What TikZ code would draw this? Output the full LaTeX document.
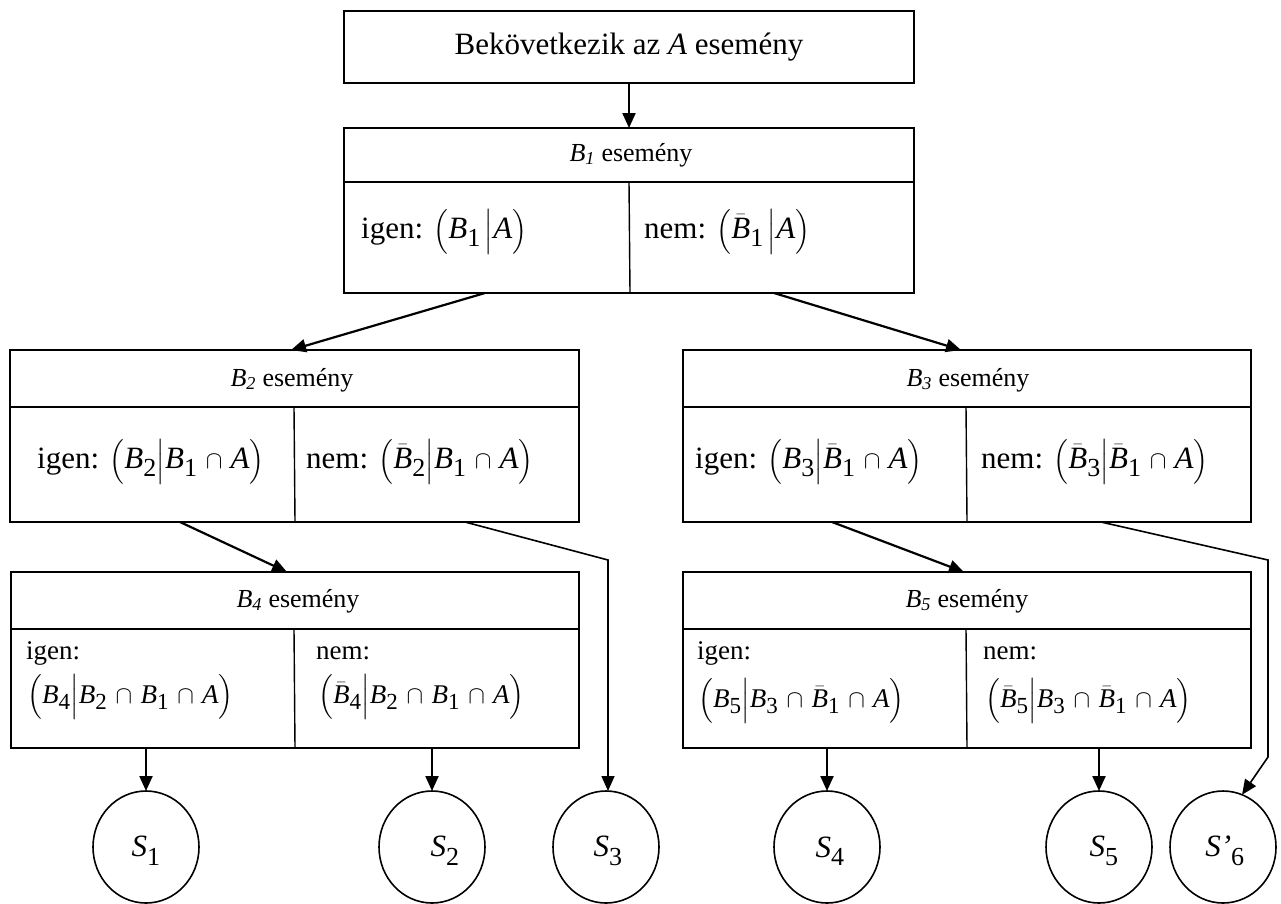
\documentclass[tikz,border=0pt]{standalone}
\usepackage{amsmath}
\usepackage{fontspec}
\setmainfont{Liberation Serif}
\usetikzlibrary{arrows.meta,shapes.geometric}
\newcommand\fTop{\fontsize{31}{36}\selectfont}
\newcommand\fHdr{\fontsize{26}{30}\selectfont}
\newcommand\fRow{\fontsize{31}{36}\selectfont}
\newcommand\fSm{\fontsize{27}{32}\selectfont}
\DeclareMathSizes{31}{31}{26}{20}
\DeclareMathSizes{27}{27}{23}{18}
\medmuskip=6mu plus 2mu minus 2mu
\newcommand\vB{\text{\itshape B}}
\newcommand\vA{\text{\itshape A}}
\newcommand\nB{\bar{\vB}}
\newcommand\sd[1]{_{\text{#1}}}
\tikzset{
  box/.style={draw, line width=1.8pt, rectangle, inner sep=0pt, outer sep=0pt, anchor=north west},
  divl/.style={line width=1.4pt},
  arr/.style={line width=2.2pt, -{Triangle[length=15pt,width=13pt]}},
  conn/.style={line width=1.6pt, -{Triangle[length=15pt,width=13pt]}},
  endst/.style={draw, ellipse, line width=1.6pt, inner sep=0pt, outer sep=0pt, minimum width=106pt, minimum height=112pt},
  hdr/.style={font=\fHdr, inner sep=0pt},
  row/.style={font=\fRow, inner sep=0pt, anchor=west},
  rowsm/.style={font=\fSm, inner sep=0pt},
  slab/.style={font=\fRow, inner sep=0pt}
}
\begin{document}
\begin{tikzpicture}[x=1pt,y=-1pt]
\useasboundingbox[fill=white] (0,0) rectangle (1281,903);
% top box
\node[box, minimum width=570pt, minimum height=72pt] (top) at (344,11) {};
\node[font=\fTop, inner sep=0pt] (toptxt) at (629,47) {Bekövetkezik az \textit{A} esemény};
% B1
\node[box, minimum width=570pt, minimum height=165pt] (b1) at (344,128) {};
\draw[divl] (344,182) -- (914,182);
\draw[divl] (629,182) -- (630,293);
\node[hdr] (b1h) at (631,155) {\textit{B\textsubscript{1}} esemény};
\node[row] (b1i) at (361,232) {igen: $\Bigl(\vB\sd{1}\,\Big|\vA\Bigr)$};
\node[row] (b1n) at (644,232) {nem: $\Bigl(\nB\sd{1}\,\Big|\vA\Bigr)$};
% B2
\node[box, minimum width=569pt, minimum height=172pt] (b2) at (10,350) {};
\draw[divl] (10,407) -- (579,407);
\node[hdr] (b2h) at (292,380) {\textit{B\textsubscript{2}} esemény};
\draw[divl] (294,407) -- (295,522);
\node[row] (b2i) at (37,462) {igen: $\Bigl(\vB\sd{2}\Big|\vB\sd{1}\cap\vA\Bigr)$};
\node[row] (b2n) at (306,462) {nem: $\Bigl(\nB\sd{2}\Big|\vB\sd{1}\cap\vA\Bigr)$};
% B3
\node[box, minimum width=568pt, minimum height=172pt] (b3) at (683,350) {};
\draw[divl] (683,407) -- (1251,407);
\node[hdr] (b3h) at (968,380) {\textit{B\textsubscript{3}} esemény};
\draw[divl] (966,407) -- (967,522);
\node[row] (b3i) at (695,462) {igen: $\Bigl(\vB\sd{3}\Big|\nB\sd{1}\cap\vA\Bigr)$};
\node[row] (b3n) at (981,462) {nem: $\Bigl(\nB\sd{3}\Big|\nB\sd{1}\cap\vA\Bigr)$};
% B4
\node[box, minimum width=568pt, minimum height=176pt] (b4) at (11,572) {};
\draw[divl] (11,629) -- (579,629);
\node[hdr] (b4h) at (298,601) {\textit{B\textsubscript{4}} esemény};
\draw[divl] (294,629) -- (295,748);
\node[rowsm, anchor=base west] (b4il) at (26,659) {igen:};
\node[rowsm, anchor=west] (b4if) at (27,697) {$\Bigl(\vB\sd{4}\Big|\vB\sd{2}\cap\vB\sd{1}\cap\vA\Bigr)$};
\node[rowsm, anchor=base west] (b4nl) at (316,659) {nem:};
\node[rowsm, anchor=west] (b4nf) at (318,697) {$\Bigl(\nB\sd{4}\Big|\vB\sd{2}\cap\vB\sd{1}\cap\vA\Bigr)$};
% B5
\node[box, minimum width=568pt, minimum height=176pt] (b5) at (683,572) {};
\draw[divl] (683,629) -- (1251,629);
\node[hdr] (b5h) at (967,601) {\textit{B\textsubscript{5}} esemény};
\draw[divl] (966,629) -- (967,748);
\node[rowsm, anchor=base west] (b5il) at (697,659) {igen:};
\node[rowsm, anchor=west] (b5if) at (698,701) {$\Bigl(\vB\sd{5}\Big|\vB\sd{3}\cap\nB\sd{1}\cap\vA\Bigr)$};
\node[rowsm, anchor=base west] (b5nl) at (983,659) {nem:};
\node[rowsm, anchor=west] (b5nf) at (985,701) {$\Bigl(\nB\sd{5}\Big|\vB\sd{3}\cap\nB\sd{1}\cap\vA\Bigr)$};
% end states
\node[endst] (s1) at (146,847) {};
\node[endst] (s2) at (432,847) {};
\node[endst] (s3) at (606,847) {};
\node[endst] (s4) at (827,847) {};
\node[endst] (s5) at (1099,847) {};
\node[endst] (s6) at (1223,847) {};
\node[slab] (s1l) at (146,851) {$\text{\itshape S}\sd{1}$};
\node[slab] (s2l) at (445,851) {$\text{\itshape S}\sd{2}$};
\node[slab] (s3l) at (608,851) {$\text{\itshape S}\sd{3}$};
\node[slab] (s4l) at (830,851) {$\text{\itshape S}\sd{4}$};
\node[slab] (s5l) at (1104,851) {$\text{\itshape S}\sd{5}$};
\node[slab] (s6l) at (1225,851) {$\text{\itshape S’}\sd{6}$};
% bend points
\coordinate (k3) at (608,560);
\coordinate (k6a) at (1268,560);
\coordinate (k6b) at (1268,757);
% connectors
\draw[arr] ([xshift=285pt]top.south west) -- ([xshift=285pt]b1.north west);
\draw[arr] ([xshift=141pt]b1.south west) -- ([xshift=281pt]b2.north west);
\draw[arr] ([xshift=430pt]b1.south west) -- ([xshift=278pt]b3.north west);
\draw[arr] ([xshift=170pt]b2.south west) -- ([xshift=276pt]b4.north west);
\draw[arr] ([xshift=149pt]b3.south west) -- ([xshift=281pt]b5.north west);
\draw[conn] ([xshift=455pt]b2.south west) -- (k3) -- (k3 |- s3.north);
\draw[conn] ([xshift=418pt]b3.south west) -- (k6a) -- (k6b) -- (s6.70);
\draw[arr] (s1.north |- b4.south) -- (s1.north);
\draw[arr] (s2.north |- b4.south) -- (s2.north);
\draw[arr] (s4.north |- b5.south) -- (s4.north);
\draw[arr] (s5.north |- b5.south) -- (s5.north);
\end{tikzpicture}
\end{document}
